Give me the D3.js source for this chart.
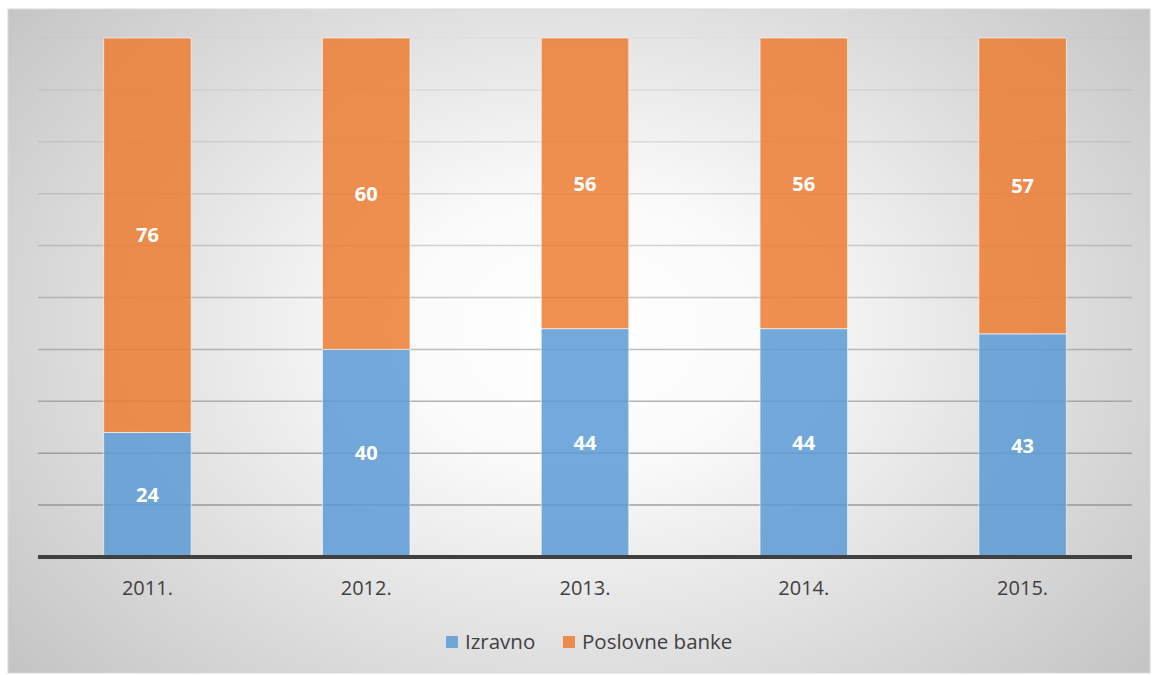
<!DOCTYPE html>
<html>
<head>
<meta charset="utf-8">
<script src="https://cdn.jsdelivr.net/npm/d3@7"></script>
<style>
  body { margin: 0; background: #fff; }
  svg { display: block; font-family: "Open Sans", sans-serif; }
</style>
</head>
<body>
<div id="chart"></div>
<script>
var years = ["2011.", "2012.", "2013.", "2014.", "2015."];
var izravno = [24, 40, 44, 44, 43];
var poslovneBanke = [76, 60, 56, 56, 57];
var seriesNames = ["Izravno", "Poslovne banke"];
var gridTicks = [10, 20, 30, 40, 50, 60, 70, 80, 90, 100];

var width = 1153, height = 675;
var margin = {top: 38, right: 21, bottom: 118, left: 38};
var colors = ["#5b9bd5", "#ed7d31"];

var rows = years.map((y, i) => ({year: y, "Izravno": izravno[i], "Poslovne banke": poslovneBanke[i]}));
var stack = d3.stack().keys(seriesNames)(rows);

var svg = d3.select("#chart").append("svg")
  .attr("width", width).attr("height", height);

var defs = svg.append("defs");
var bg = defs.append("radialGradient").attr("id", "bg")
  .attr("gradientUnits", "userSpaceOnUse")
  .attr("cx", 580).attr("cy", 330).attr("r", 760)
  .attr("gradientTransform", "translate(580,330) scale(1,0.72) translate(-580,-330)");
bg.append("stop").attr("offset", "0").attr("stop-color", "#ffffff");
bg.append("stop").attr("offset", "0.25").attr("stop-color", "#fafafa");
bg.append("stop").attr("offset", "1").attr("stop-color", "#c2c2c2");

svg.append("rect")
  .attr("x", 8).attr("y", 9).attr("width", 1142).attr("height", 664)
  .attr("fill", "url(#bg)").attr("stroke", "#d9d9d9").attr("stroke-width", 1);

var x = d3.scaleBand()
  .domain(years)
  .range([margin.left, width - margin.right])
  .paddingInner(0.6).paddingOuter(0.3);

var y = d3.scaleLinear()
  .domain([0, 100])
  .range([height - margin.bottom, margin.top]);

// gridlines
svg.append("g")
  .selectAll("line")
  .data(gridTicks)
  .join("line")
    .attr("x1", margin.left).attr("x2", width - margin.right)
    .attr("y1", d => y(d)).attr("y2", d => y(d))
    .attr("stroke", "#808080")
    .attr("stroke-width", 1.5)
    .attr("stroke-opacity", d => 0.8 - d * 0.0075);

// bars
var layer = svg.append("g")
  .selectAll("g")
  .data(stack)
  .join("g")
    .attr("fill", (d, i) => colors[i]);

layer.selectAll("rect")
  .data(d => d)
  .join("rect")
    .attr("x", d => x(d.data.year))
    .attr("y", d => y(d[1]))
    .attr("width", x.bandwidth())
    .attr("height", d => y(d[0]) - y(d[1]))
    .attr("fill-opacity", 0.85)
    .attr("stroke", "#ffffff")
    .attr("stroke-opacity", 0.6)
    .attr("stroke-width", 1);

// value labels
layer.selectAll("text")
  .data(d => d)
  .join("text")
    .attr("x", d => x(d.data.year) + x.bandwidth() / 2)
    .attr("y", d => (y(d[0]) + y(d[1])) / 2)
    .attr("dy", "0.36em")
    .attr("text-anchor", "middle")
    .attr("fill", "#ffffff")
    .attr("font-weight", "bold")
    .attr("font-size", 20)
    .text(d => d[1] - d[0]);

// x axis
var gx = svg.append("g")
  .attr("transform", `translate(0,${y(0)})`)
  .call(d3.axisBottom(x).tickSize(0).tickPadding(24));
gx.select(".domain").attr("stroke", "#404040").attr("stroke-width", 4)
  .attr("d", `M${margin.left},0H${width - margin.right}`);
gx.selectAll("text").attr("font-size", 20).attr("fill", "#404040")
  .attr("font-family", "'Open Sans', sans-serif");

// legend
var legend = svg.append("g").attr("transform", "translate(446,642)");
var legendX = [0, 117];
var item = legend.selectAll("g")
  .data(seriesNames)
  .join("g")
    .attr("transform", (d, i) => `translate(${legendX[i]},0)`);
item.append("rect")
  .attr("x", 0).attr("y", -6).attr("width", 12).attr("height", 12)
  .attr("fill", (d, i) => colors[i]).attr("fill-opacity", 0.85);
item.append("text")
  .attr("x", 19).attr("dy", "0.36em")
  .attr("font-size", 20.5).attr("fill", "#404040")
  .text(d => d);
</script>
</body>
</html>
